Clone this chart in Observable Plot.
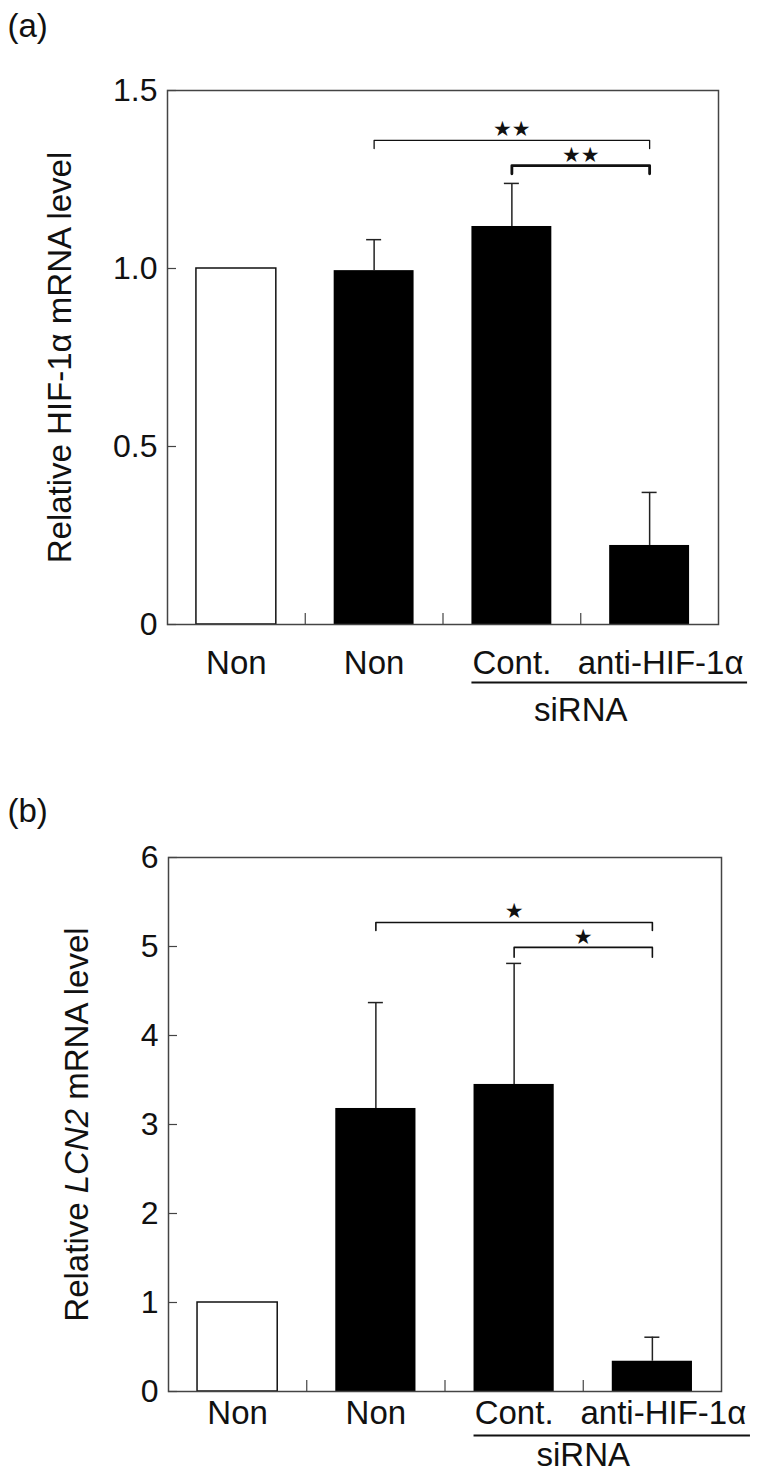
<!DOCTYPE html>
<html>
<head>
<meta charset="utf-8">
<script src="https://cdn.jsdelivr.net/npm/d3@7"></script>
<script src="https://cdn.jsdelivr.net/npm/@observablehq/plot@0.6"></script>
<style>
  body { margin: 0; background: #fff; }
  #root { width: 759px; }
  #root svg { display: block; }
</style>
</head>
<body>
<div id="root"></div>
<script>
// ---------- data ----------
const categories = ["non0", "non1", "cont", "anti"];
const categoryLabels = ["Non", "Non", "Cont.", "anti-HIF-1α"];

// panel (a): HIF-1α mRNA
const hifMean = [1.0, 0.994, 1.118, 0.222];
const hifErr = [null, 0.087, 0.121, 0.149];
const hifTicks = [0, 0.5, 1.0, 1.5];
const hifDomain = [0, 1.5];
const hifTitle = "Relative HIF-1α mRNA level";
const hifBrackets = [
  {from: "non1", to: "anti", level: 1.360, foot: 1.337, starY: 1.390, stars: "★★"},
  {from: "cont", to: "anti", level: 1.289, foot: 1.266, starY: 1.318, stars: "★★"}
];

// panel (b): LCN2 mRNA
const lcnMean = [1.0, 3.18, 3.45, 0.34];
const lcnErr = [null, 1.19, 1.36, 0.27];
const lcnTicks = [0, 1, 2, 3, 4, 5, 6];
const lcnDomain = [0, 6];
const lcnTitleParts = [["Relative ", false], ["LCN2", true], [" mRNA level", false]];
const lcnBrackets = [
  {from: "non1", to: "anti", level: 5.27, foot: 5.18, starY: 5.40, stars: "★"},
  {from: "cont", to: "anti", level: 4.99, foot: 4.88, starY: 5.10, stars: "★"}
];

const siRNAGroup = [{first: "cont", last: "anti", label: "siRNA"}];
const panelLabels = ["(a)", "(b)"];

// ---------- drawing ----------
const W = 759;
const FONT = "'Liberation Sans', Arial, Helvetica, sans-serif";
const ink = "#111";
const axisInk = "#444";
const PI = 0.42, PO = 0.21;

function table(mean, err) {
  return categories.map((c, i) => ({cat: c, label: categoryLabels[i], mean: mean[i], err: err[i]}));
}

function panel(cfg) {
  const {data, ticks, tickFormat, domain, title, panelLabel, brackets, bracketWidths,
         H, mt, mb, ml, mr, xLabelDy, lineDy, sirnaDy, titleDx, panelDx, panelDy} = cfg;
  const step = (W - ml - mr) / (categories.length - PI + 2 * PO);
  const bandwidth = step * (1 - PI);
  const capInset = (bandwidth - 15) / 2;
  const idx = c => categories.indexOf(c);
  const errData = data.filter(d => d.err != null);
  const openBar = d => d.cat === categories[0];

  const marks = [
    Plot.barY(data.filter(openBar), {x: "cat", y: "mean", fill: "white", stroke: ink, strokeWidth: 1.5}),
    Plot.barY(data.filter(d => !openBar(d)), {x: "cat", y: "mean", fill: "black"}),
    Plot.ruleX(errData, {x: "cat", y1: "mean", y2: d => d.mean + d.err, stroke: "#222", strokeWidth: 1.5}),
    Plot.tickY(errData, {x: "cat", y: d => d.mean + d.err, stroke: "#222", strokeWidth: 1.5, insetLeft: capInset, insetRight: capInset}),
    Plot.frame({stroke: axisInk, strokeWidth: 1.5}),
    // inside y ticks
    Plot.axisY(ticks, {tickSize: 9, dx: 9, fill: "none", stroke: axisInk, strokeWidth: 1.2, label: null}),
    // y tick labels
    Plot.axisY(ticks, {tickSize: 0, tickPadding: 10, tickFormat, stroke: "none", fill: ink, label: null, fontSize: 32}),
    // inside x ticks between groups
    Plot.axisX(categories.slice(0, -1), {tickSize: 11, dy: -11, dx: step / 2, fill: "none", stroke: axisInk, strokeWidth: 1.2, label: null}),
    // x labels
    Plot.text(data.filter(d => d.cat !== "anti"), {x: "cat", text: "label", frameAnchor: "bottom", lineAnchor: "top", dy: xLabelDy, fill: ink}),
    Plot.text(data.filter(d => d.cat === "anti"), {x: "cat", text: "label", frameAnchor: "bottom", lineAnchor: "top", dy: xLabelDy, dx: 11, fill: ink}),
    // siRNA grouping
    Plot.ruleY(siRNAGroup, {x1: "first", x2: "last", y: () => 0, dy: lineDy, insetRight: -58, stroke: ink, strokeWidth: 1.8}),
    Plot.text(siRNAGroup, {x: "first", text: "label", frameAnchor: "bottom", lineAnchor: "top", dx: step / 2, dy: sirnaDy, fill: ink}),
    // y title
    Plot.text([title], {text: d => d, frameAnchor: "left", rotate: -90, dx: titleDx, textAnchor: "middle", lineAnchor: "middle", fill: ink}),
    // panel label
    Plot.text([panelLabel], {text: d => d, frameAnchor: "top-left", textAnchor: "start", lineAnchor: "middle", dx: panelDx, dy: panelDy, fill: ink})
  ];

  brackets.forEach((b, k) => {
    const pts = [
      {x: b.from, y: b.foot}, {x: b.from, y: b.level},
      {x: b.to, y: b.level}, {x: b.to, y: b.foot}
    ];
    marks.push(Plot.line(pts, {x: "x", y: "y", stroke: ink, strokeWidth: bracketWidths[k]}));
    marks.push(Plot.text([b], {x: "from", y: "starY", text: "stars", dx: (idx(b.to) - idx(b.from)) / 2 * step,
      fontSize: 21, fontFamily: "DejaVu Sans", lineAnchor: "middle", fill: ink}));
  });

  return Plot.plot({
    width: W, height: H,
    marginTop: mt, marginBottom: mb, marginLeft: ml, marginRight: mr,
    style: {fontFamily: FONT, fontSize: "33px", background: "white", color: ink, overflow: "visible"},
    x: {type: "band", domain: categories, paddingInner: PI, paddingOuter: PO, round: false},
    y: {domain},
    marks
  });
}

const svgA = panel({
  data: table(hifMean, hifErr), ticks: hifTicks,
  tickFormat: d => d === 0 ? "0" : d.toFixed(1), domain: hifDomain,
  title: hifTitle, panelLabel: panelLabels[0], brackets: hifBrackets, bracketWidths: [1.3, 2.8],
  H: 735, mt: 90, mb: 111, ml: 167, mr: 41,
  xLabelDy: 26, lineDy: 58, sirnaDy: 73, titleDx: -107, panelDx: -160, panelDy: -64
});

const lcnTitle = lcnTitleParts.map(p => p[0]).join("");
const svgB = panel({
  data: table(lcnMean, lcnErr), ticks: lcnTicks,
  tickFormat: d => String(d), domain: lcnDomain,
  title: lcnTitle, panelLabel: panelLabels[1], brackets: lcnBrackets, bracketWidths: [1.6, 1.6],
  H: 744, mt: 122, mb: 88, ml: 168, mr: 38,
  xLabelDy: 9, lineDy: 44, sirnaDy: 51, titleDx: -91, panelDx: -161, panelDy: -46
});

// italicise the gene name in panel (b) title
d3.select(svgB).selectAll("text").filter(function () { return this.textContent === lcnTitle; })
  .each(function () {
    const t = d3.select(this);
    t.text(null);
    lcnTitleParts.forEach(([s, it]) => {
      const sp = t.append("tspan").text(s);
      if (it) sp.attr("font-style", "italic");
    });
  });

const root = document.getElementById("root");
root.appendChild(svgA);
root.appendChild(svgB);
</script>
</body>
</html>
